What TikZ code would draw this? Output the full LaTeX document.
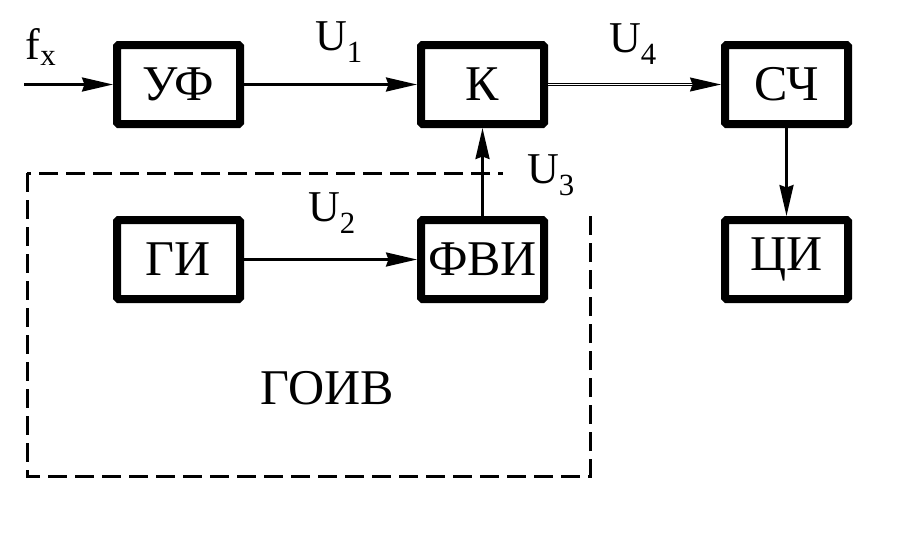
\documentclass[tikz,border=0pt]{standalone}
\usepackage{fontspec}
\setmainfont{Liberation Serif}
\usetikzlibrary{arrows.meta}
\tikzset{
  blk/.style={draw, line width=8pt, rounded corners=1.5pt, minimum width=123pt, minimum height=79pt, inner sep=0pt, font=\fontsize{50}{54}\selectfont},
  lbl/.style={inner sep=0pt, font=\fontsize{44}{48}\selectfont},
  conn/.style={line width=2.6pt, -{Stealth[length=31pt,width=14pt,inset=2.5pt]}},
  dconn/.style={double, line width=1.3pt, double distance=1.3pt, -{Stealth[length=31pt,width=14pt,inset=2.5pt]}},
  dash box/.style={line width=3pt, dash pattern=on 19pt off 8pt}
}
\begin{document}
\begin{tikzpicture}[x=1pt,y=-1pt]
\useasboundingbox (0,0) rectangle (915,547);
% dashed group
\draw[dash box] (27,173) rectangle (590,476);
\fill[white] (503,127) rectangle (632,215);
% blocks
\node[blk] (uf) at (178.5,84.5) {УФ};
\node[blk] (k) at (482.5,84.5) {К};
\node[blk] (sch) at (786.5,84.5) {СЧ};
\node[blk] (gi) at (178.5,259.5) {ГИ};
\node[blk] (fvi) at (482.5,259.5) {ФВИ};
\node[blk] (ci) at (786.5,259.5) {ЦИ};
% labels
\node[lbl] (fx) at (41,47) {f\textsubscript{x}};
\node[lbl] (u1) at (339,42) {U\textsubscript{1}};
\node[lbl] (u4) at (633,44) {U\textsubscript{4}};
\node[lbl] (u2) at (332,213) {U\textsubscript{2}};
\node[lbl] (u3) at (551,175) {U\textsubscript{3}};
\node[lbl, font=\fontsize{50}{54}\selectfont] (goiv) at (327,388) {ГОИВ};
% connectors
\coordinate (in) at (24,84.5);
\draw[conn] (in) -- (uf.west);
\draw[conn] (uf.east) -- (k.west);
\draw[dconn] (k.east) -- (sch.west);
\draw[conn] (gi.east) -- (fvi.west);
\draw[conn] (fvi.north) -- (k.south);
\draw[conn] (sch.south) -- (ci.north);
\end{tikzpicture}
\end{document}
